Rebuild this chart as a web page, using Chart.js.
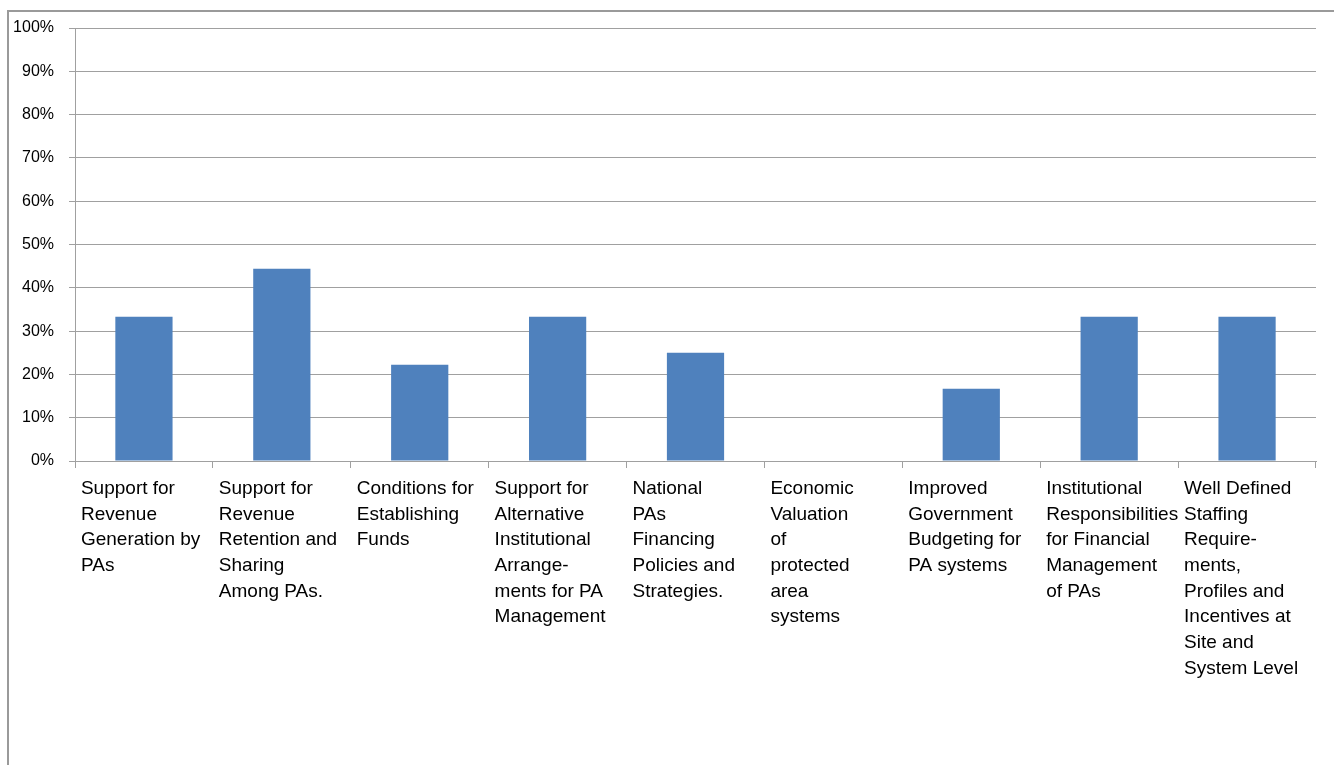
<!DOCTYPE html>
<html>
<head>
<meta charset="utf-8">
<script src="https://cdn.jsdelivr.net/npm/chart.js@4"></script>
<style>
  body { margin: 0; background: #fff; }
  #frame {
    position: absolute; left: 7px; top: 10px;
    width: 1327px; height: 755px;
    border-left: 2px solid #9a9a9a; border-top: 2px solid #9a9a9a;
  }
  #chart { display: block; }
</style>
</head>
<body>
<div id="frame"><canvas id="chart" width="1325" height="753"></canvas></div>
<script>
// categories, wrapped the way the original shows them
var categories = [
    ['Support for', 'Revenue', 'Generation by', 'PAs'],
    ['Support for', 'Revenue', 'Retention and', 'Sharing', 'Among PAs.'],
    ['Conditions for', 'Establishing', 'Funds'],
    ['Support for', 'Alternative', 'Institutional', 'Arrange-', 'ments for PA', 'Management'],
    ['National', 'PAs', 'Financing', 'Policies and', 'Strategies.'],
    ['Economic', 'Valuation', 'of', 'protected', 'area', 'systems'],
    ['Improved', 'Government', 'Budgeting for', 'PA systems'],
    ['Institutional', 'Responsibilities', 'for Financial', 'Management', 'of PAs'],
    ['Well Defined', 'Staffing', 'Require-', 'ments,', 'Profiles and', 'Incentives at', 'Site and', 'System Level']
];
var values = [33.3, 44.4, 22.2, 33.3, 25, 0, 16.7, 33.3, 33.3];
var yTicks = [0, 10, 20, 30, 40, 50, 60, 70, 80, 90, 100];

var gridColor = '#a0a0a0';

new Chart(document.getElementById('chart'), {
    type: 'bar',
    data: {
        labels: categories,
        datasets: [{
            data: values,
            backgroundColor: '#4F81BD',
            borderWidth: 0,
            barPercentage: 0.415,
            categoryPercentage: 1
        }]
    },
    options: {
        responsive: false,
        animation: false,
        layout: { padding: { left: 0, top: 16, right: 18, bottom: 0 } },
        plugins: {
            legend: { display: false },
            tooltip: { enabled: false }
        },
        scales: {
            x: {
                grid: {
                    offset: true,
                    drawOnChartArea: false,
                    drawTicks: true,
                    tickLength: 7,
                    color: gridColor
                },
                border: { color: gridColor, width: 1 },
                ticks: {
                    autoSkip: false,
                    maxRotation: 0,
                    align: 'start',
                    labelOffset: -63,
                    padding: 8,
                    color: '#000',
                    font: { family: 'Liberation Sans', size: 19, lineHeight: 1.35 }
                },
                afterFit: function (scale) {
                    scale.height = 304;
                    scale.paddingLeft = 0;
                    scale.paddingRight = 0;
                }
            },
            y: {
                min: 0,
                max: 100,
                afterBuildTicks: function (scale) {
                    scale.ticks = yTicks.map(function (v) { return { value: v }; });
                },
                grid: { color: gridColor, tickLength: 6 },
                border: { color: gridColor, width: 1 },
                ticks: {
                    padding: 15,
                    color: '#000',
                    font: { family: 'Liberation Sans', size: 16 },
                    callback: function (v) { return v + '%'; }
                },
                afterFit: function (scale) {
                    scale.width = 66;
                    scale.paddingTop = 0;
                    scale.paddingBottom = 0;
                }
            }
        }
    }
});
</script>
</body>
</html>
